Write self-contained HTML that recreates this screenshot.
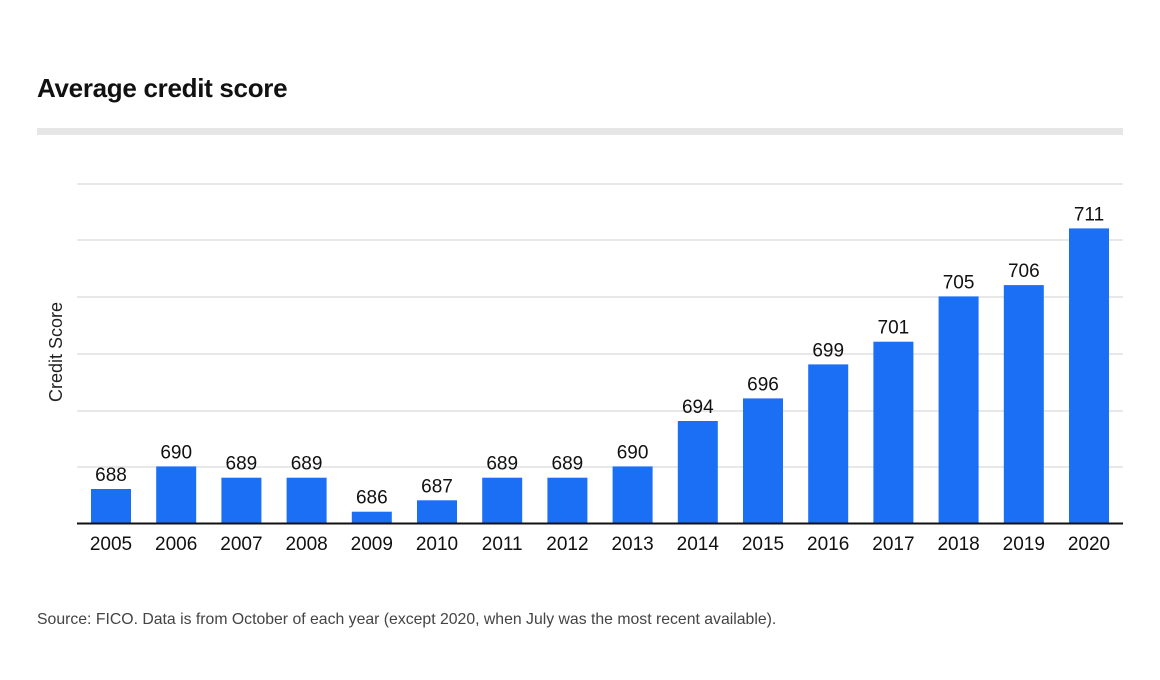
<!DOCTYPE html>
<html><head><meta charset="utf-8"><style>
body{margin:0;background:#fff;}
svg{display:block;font-family:"Liberation Sans",sans-serif;}
</style></head><body>
<svg width="1160" height="680" xmlns="http://www.w3.org/2000/svg">
<rect width="1160" height="680" fill="#fff"/>
<text x="37" y="97" font-size="26" font-weight="bold" fill="#111" letter-spacing="-0.3">Average credit score</text>
<rect x="37" y="128" width="1086" height="7" fill="#e6e6e6"/>
<g stroke="#d0d0d0" stroke-width="1">
<line x1="77" x2="1123" y1="184" y2="184"/>
<line x1="77" x2="1123" y1="240" y2="240"/>
<line x1="77" x2="1123" y1="297" y2="297"/>
<line x1="77" x2="1123" y1="354" y2="354"/>
<line x1="77" x2="1123" y1="411" y2="411"/>
<line x1="77" x2="1123" y1="467" y2="467"/>
</g>
<text transform="translate(62,352) rotate(-90)" text-anchor="middle" font-size="18" fill="#222">Credit Score</text>
<g fill="#1a6ff5">
<rect x="91" y="489" width="40" height="34"/>
<rect x="156.2" y="466.4" width="40" height="56.6"/>
<rect x="221.4" y="477.7" width="40" height="45.3"/>
<rect x="286.6" y="477.7" width="40" height="45.3"/>
<rect x="351.8" y="511.7" width="40" height="11.3"/>
<rect x="417" y="500.3" width="40" height="22.7"/>
<rect x="482.2" y="477.7" width="40" height="45.3"/>
<rect x="547.4" y="477.7" width="40" height="45.3"/>
<rect x="612.6" y="466.4" width="40" height="56.6"/>
<rect x="677.8" y="421" width="40" height="102"/>
<rect x="743" y="398.4" width="40" height="124.6"/>
<rect x="808.2" y="364.4" width="40" height="158.6"/>
<rect x="873.4" y="341.7" width="40" height="181.3"/>
<rect x="938.6" y="296.4" width="40" height="226.6"/>
<rect x="1003.8" y="285.1" width="40" height="237.9"/>
<rect x="1069" y="228.4" width="40" height="294.6"/>
</g>
<g font-size="19" fill="#111" text-anchor="middle">
<text x="111" y="481">688</text>
<text x="176.2" y="458.4">690</text>
<text x="241.4" y="469.7">689</text>
<text x="306.6" y="469.7">689</text>
<text x="371.8" y="503.7">686</text>
<text x="437" y="492.3">687</text>
<text x="502.2" y="469.7">689</text>
<text x="567.4" y="469.7">689</text>
<text x="632.6" y="458.4">690</text>
<text x="697.8" y="413">694</text>
<text x="763" y="390.4">696</text>
<text x="828.2" y="356.4">699</text>
<text x="893.4" y="333.7">701</text>
<text x="958.6" y="288.4">705</text>
<text x="1023.8" y="277.1">706</text>
<text x="1089" y="220.4">711</text>
<text x="111" y="550">2005</text>
<text x="176.2" y="550">2006</text>
<text x="241.4" y="550">2007</text>
<text x="306.6" y="550">2008</text>
<text x="371.8" y="550">2009</text>
<text x="437" y="550">2010</text>
<text x="502.2" y="550">2011</text>
<text x="567.4" y="550">2012</text>
<text x="632.6" y="550">2013</text>
<text x="697.8" y="550">2014</text>
<text x="763" y="550">2015</text>
<text x="828.2" y="550">2016</text>
<text x="893.4" y="550">2017</text>
<text x="958.6" y="550">2018</text>
<text x="1023.8" y="550">2019</text>
<text x="1089" y="550">2020</text>
</g>
<line x1="77" x2="1123" y1="523.5" y2="523.5" stroke="#111" stroke-width="2"/>
<text x="37" y="624" font-size="15.8" fill="#444">Source: FICO. Data is from October of each year (except 2020, when July was the most recent available).</text>
</svg>
</body></html>
